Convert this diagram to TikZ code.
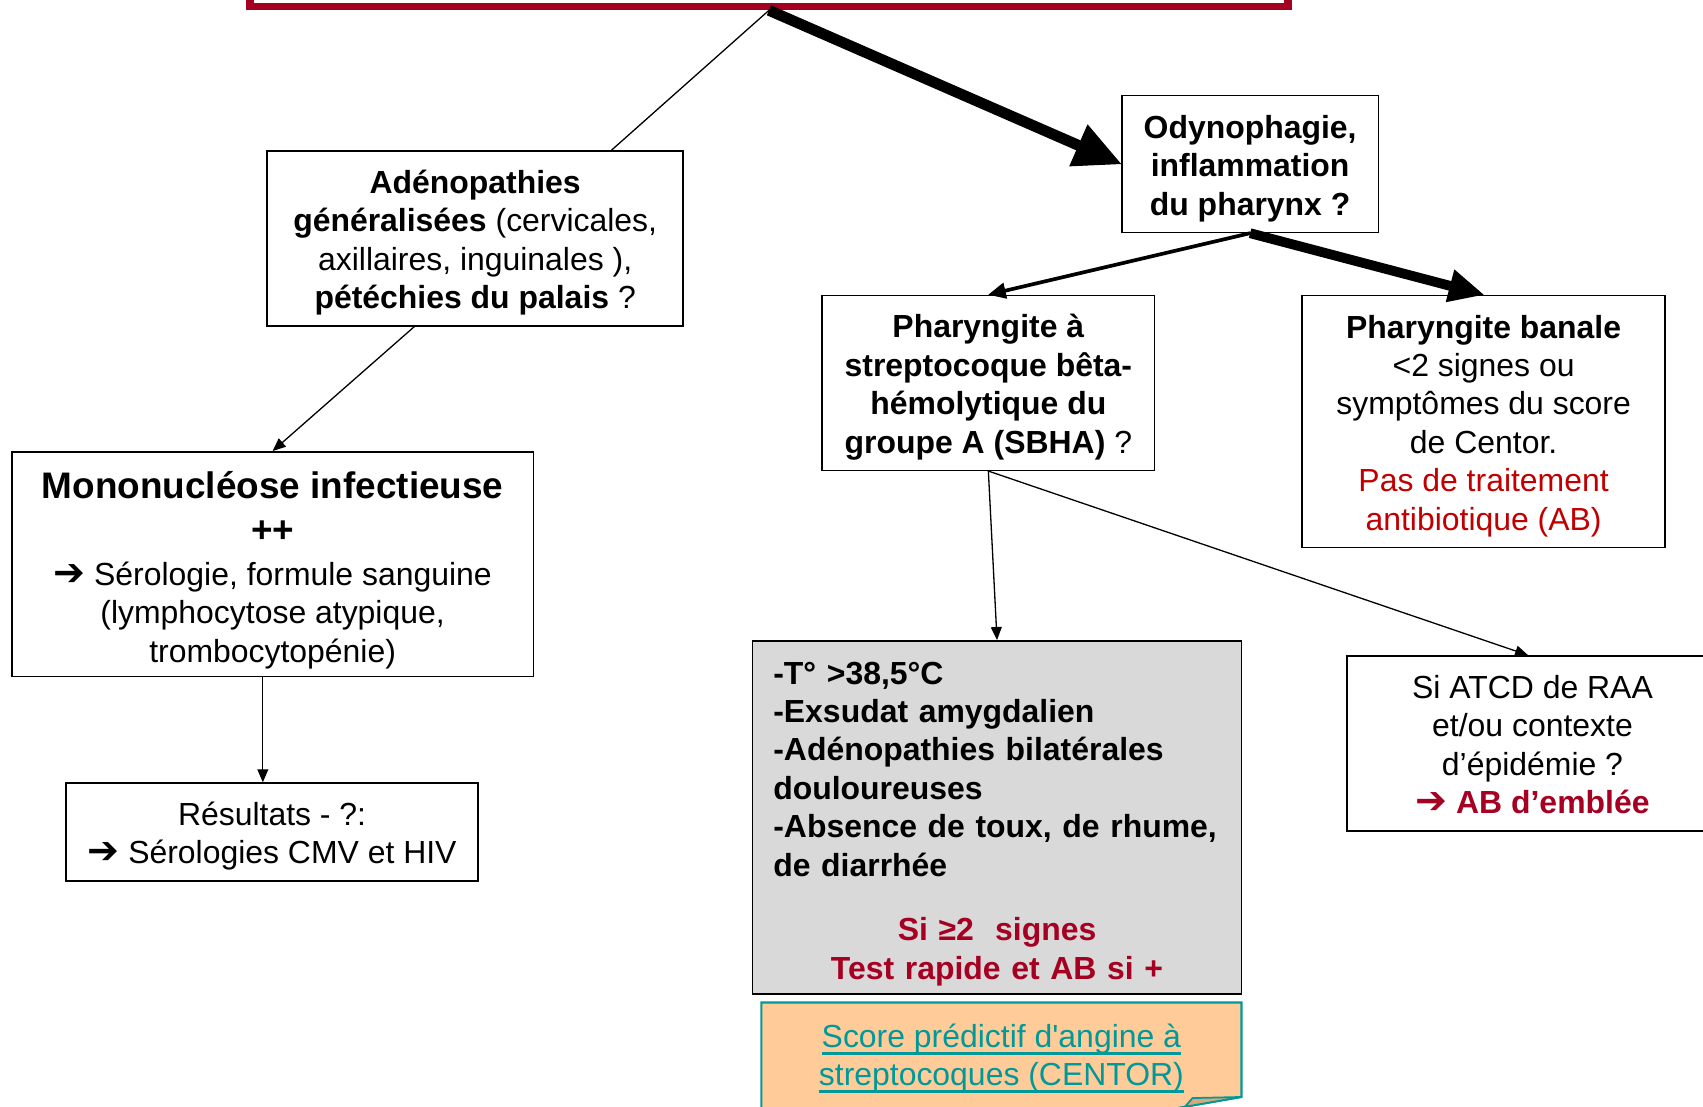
\documentclass[tikz,border=0pt]{standalone}
\usepackage{fontspec}
\setmainfont{Liberation Sans}
\newfontfamily\dejavu{DejaVu Sans}
\newfontfamily\notefont{Liberation Sans}[Ligatures=TeXOff]
\usepackage{tikz}
\usetikzlibrary{shapes, arrows.meta, calc, positioning}

\definecolor{rougefonce}{RGB}{165,0,33}
\definecolor{rouge}{RGB}{192,0,0}
\definecolor{gris}{RGB}{217,217,217}
\definecolor{peche}{RGB}{255,204,153}
\definecolor{sarcelle}{RGB}{0,153,153}
\definecolor{pli}{RGB}{214,168,122}

\newcommand{\txt}{\fontsize{14.7}{17.7}\selectfont}
\newcommand{\grand}{\fontsize{17}{20}\selectfont}
\newcommand{\fleche}{{\dejavu\bfseries\fontsize{17.5}{17.5}\selectfont\char"2794}}
\newcommand{\haut}{\rule{0pt}{15pt}}
\newcommand{\bas}{\rule[-3.3pt]{0pt}{3.3pt}}
\newcommand{\souligne}[1]{\setbox0=\hbox{#1}\rlap{\rule[-3.4pt]{\wd0}{1.2pt}}\box0}

\begin{document}
\begin{tikzpicture}[x=0.5pt, y=-0.5pt, >={Triangle[length=6pt, width=5pt]}]
	\tikzstyle{cadre} = [draw, line width=0.7pt, rectangle, align=center, inner sep=0pt, font=\txt]
	\tikzstyle{signes} = [draw, line width=0.7pt, rectangle, fill=gris, inner xsep=9.5pt, inner ysep=0pt, text width=206pt, font=\txt\bfseries]
	\tikzstyle{fin} = [line width=0.6pt]

	\useasboundingbox (0,0) rectangle (1568,1019);

	\node[draw=rougefonce, line width=3.5pt, minimum width=478pt, minimum height=34pt] (top) at (708,-28) {};

	\node[cadre, minimum width=118pt, minimum height=63pt, font=\txt\bfseries] (odyn) at (1151,151)
		{\haut Odynophagie,\\ inflammation\\ du pharynx ?\bas};
	\node[cadre, minimum width=191.5pt, minimum height=80.5pt] (aden) at (437.5,219.5)
		{\haut\textbf{Adénopathies}\\ \textbf{généralisées} (cervicales,\\ axillaires, inguinales ),\\ \textbf{pétéchies du palais} ?\bas};
	\node[cadre, minimum width=240pt, minimum height=103.5pt] (mono) at (251,519.5)
		{\rule{0pt}{18pt}{\grand\bfseries Mononucléose infectieuse}\\[2.3pt] {\grand\bfseries ++}\\[2.3pt] \fleche{} Sérologie, formule sanguine\\ (lymphocytose atypique,\\ trombocytopénie)};
	\node[cadre, minimum width=189.5pt, minimum height=45pt] (resu) at (250.5,766)
		{\haut Résultats - ?:\\ \fleche{} Sérologies CMV et HIV\bas};
	\node[cadre, minimum width=153pt, minimum height=80.5pt] (sbha) at (910,352.5)
		{\haut\textbf{Pharyngite à}\\ \textbf{streptocoque bêta-}\\ \textbf{hémolytique du}\\ \textbf{groupe A (SBHA)} ?\bas};
	\node[cadre, minimum width=167pt, minimum height=116pt] (banale) at (1366,388)
		{\haut\textbf{Pharyngite banale}\\ <2 signes ou\\ symptômes du score\\ de Centor.\\ \textcolor{rouge}{Pas de traitement}\\ \textcolor{rouge}{antibiotique (AB)}\bas};
	\node[signes, minimum width=225pt, minimum height=162.5pt] (centor) at (918,752.5)
		{\raggedright\rule{0pt}{16.5pt}-T° >38,5°C\\ -Exsudat amygdalien\\ -Adénopathies bilatérales\\ douloureuses\\ -Absence de toux, de rhume,\\ de diarrhée\par
		\vspace{12pt}{\centering\color{rougefonce} Si ≥2\ \ signes\\ Test rapide et AB si +\bas\par}};
	\node[cadre, minimum width=171pt, minimum height=80.5pt] (atcd) at (1411,684.5)
		{\haut Si ATCD de RAA\\ et/ou contexte\\ d’épidémie ?\\ \textcolor{rougefonce}{\textbf{\fleche{} AB d’emblée}}\bas};

	\path[draw=sarcelle, fill=peche, line width=1pt]
		(701,1040) -- (701,923) -- (1143,923) -- (1143,1010) -- (993,1036) -- (701,1036);
	\path[draw=sarcelle, fill=pli, line width=0.8pt, line join=round]
		(1091,1019) -- (1098,1011) -- (1143,1010) -- cycle;
	\node[font=\txt\notefont, text=sarcelle, align=center, inner sep=0pt] (note) at (922,974.5)
		{\souligne{Score prédictif d'angine à}\\ \souligne{streptocoques (CENTOR)}};

	\path[->, fin]
		(top.south) edge[-] ([xshift=62.75pt]aden.north)
		(top.south) edge[line width=5pt, -{Triangle[length=21.5pt, width=21pt, line width=0.5pt]}] (odyn.west)
		([xshift=-28pt]aden.south) edge (mono.north)
		([xshift=-4.5pt]mono.south) edge ([xshift=-4.25pt]resu.north)
		(odyn.south) edge[line width=1.7pt, -{Triangle[length=8pt, width=7.5pt, line width=0.5pt]}] (sbha.north)
		(odyn.south) edge[line width=4.5pt, -{Triangle[length=16pt, width=15.5pt, line width=0.5pt]}] (banale.north)
		(sbha.south) edge (centor.north)
		(sbha.south) edge ([xshift=-2pt]atcd.north)
	;
\end{tikzpicture}
\end{document}
